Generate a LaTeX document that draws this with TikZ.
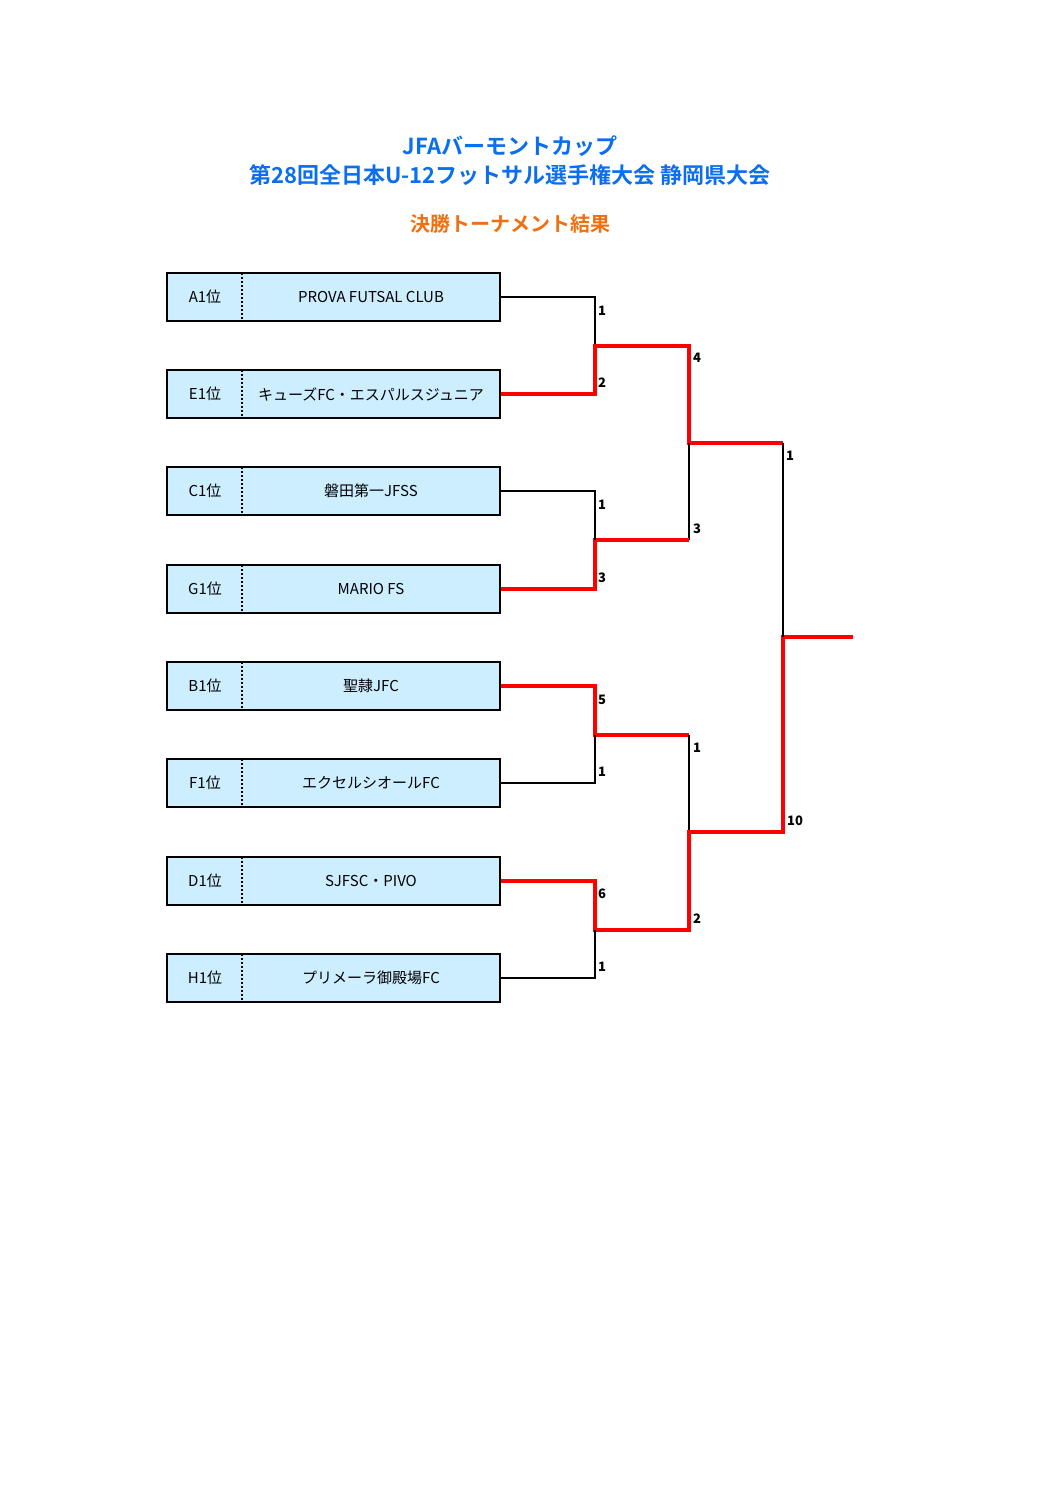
\documentclass[tikz,border=0pt]{standalone}
\usepackage{fontspec}
\setmainfont{Noto Sans CJK JP}
\newfontfamily\cjkb{Noto Sans CJK JP Bold}
\definecolor{tblue}{HTML}{0A6EF0}
\definecolor{torange}{HTML}{F07010}
\definecolor{boxfill}{HTML}{CCEEFF}
\begin{document}
\begin{tikzpicture}[x=0.5pt,y=-0.5pt,
  team/.style={draw,line width=1.2pt,fill=boxfill,minimum width=166.5pt,minimum height=24pt,inner sep=0},
  blk/.style={line width=0.8pt,black},
  win/.style={line width=1.8pt,red},
  sc/.style={font=\fontsize{6.5}{7}\selectfont\bfseries,inner sep=0}]
\useasboundingbox (0,0) rectangle (1058,1497);
\node[font=\cjkb\fontsize{11}{13}\selectfont,text=tblue,align=center] (t1) at (510,146) {JFAバーモントカップ};
\node[font=\cjkb\fontsize{11}{13}\selectfont,text=tblue] (t2) at (510,175) {第28回全日本U-12フットサル選手権大会 静岡県大会};
\node[font=\cjkb\fontsize{10}{12}\selectfont,text=torange] (t3) at (510,224) {決勝トーナメント結果};
\foreach \n/\y/\s/\t in {a/297/A1位/PROVA FUTSAL CLUB, e/394/E1位/キューズFC・エスパルスジュニア, c/491/C1位/磐田第一JFSS, g/589/G1位/MARIO FS, b/686/B1位/聖隷JFC, f/783/F1位/エクセルシオールFC, d/881/D1位/SJFSC・PIVO, h/978/H1位/プリメーラ御殿場FC}{
  \node[team] (\n) at (333.5,\y) {};
  \draw[line width=1pt,densely dotted] (242,\y-24) -- (242,\y+24);
  \node[font=\fontsize{7.5}{9}\selectfont] (\n s) at (205,\y) {\s};
  \node[font=\fontsize{7.5}{9}\selectfont] (\n t) at (371,\y) {\t};
}
% match 1
\draw[blk] (a.east) -- (595,297) -- (595,346);
\draw[win] (e.east) -- (595,394) -- (595,346) -- (689,346) -- (689,443) -- (783,443);
\draw[blk] (689,443) -- (689,540);
\draw[win] (g.east) -- (595,589) -- (595,540) -- (689,540);
\draw[blk] (c.east) -- (595,491) -- (595,540);
\draw[win] (b.east) -- (595,686) -- (595,735) -- (689,735);
\draw[blk] (f.east) -- (595,783) -- (595,735);
\draw[blk] (689,735) -- (689,832);
\draw[win] (d.east) -- (595,881) -- (595,930) -- (689,930) -- (689,832) -- (783,832) -- (783,637) -- (853,637);
\draw[blk] (h.east) -- (595,978) -- (595,930);
\draw[blk] (783,443) -- (783,637);
\foreach \x/\y/\v in {602/311/1,602/383/2,602/505/1,602/578/3,602/700/5,602/772/1,602/894/6,602/967/1,697/358/4,697/529/3,697/748/1,697/919/2,790/456/1,795/821/10}
  \node[sc] at (\x,\y) {\v};
\end{tikzpicture}
\end{document}
